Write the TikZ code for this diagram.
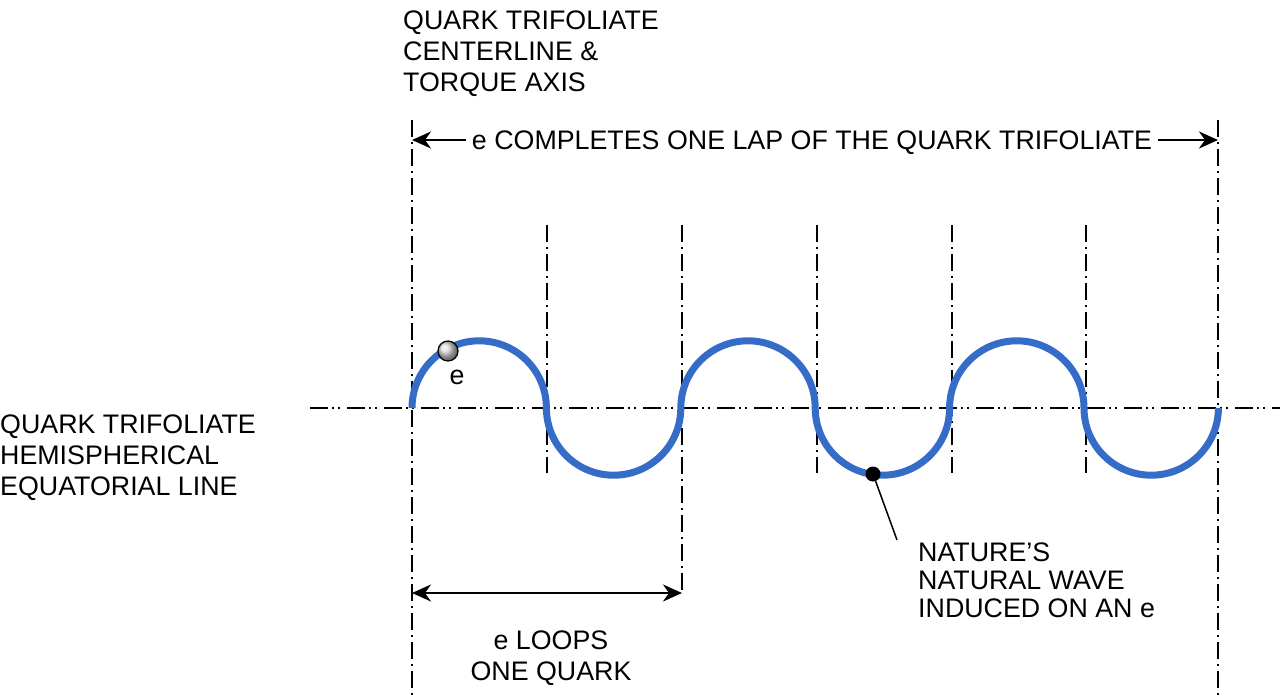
\documentclass[tikz,border=0pt]{standalone}
\usepackage{fontspec}
\setmainfont{Liberation Sans}
\usetikzlibrary{arrows.meta,positioning}
\definecolor{waveblue}{RGB}{52,108,200}

\begin{document}
\begin{tikzpicture}[
    x=1pt, y=-1pt,
    lbl/.style={inner sep=0pt, font=\fontsize{26.8}{31}\selectfont},
    arr/.style={-{Stealth[length=19pt, width=17pt, inset=6pt]}, line width=1.8pt, draw=black},
    dimarr/.style={{Stealth[length=19pt, width=17pt, inset=6pt]}-{Stealth[length=19pt, width=17pt, inset=6pt]}, line width=1.8pt, draw=black},
    centerline/.style={line width=2pt, dash pattern=on 17pt off 5pt on 2pt off 5pt},
    equator/.style={line width=2pt, dash pattern=on 18pt off 4pt on 2pt off 4pt on 2pt off 7pt},
    wave/.style={draw=waveblue, line width=7pt}
]
    \useasboundingbox[fill=white] (0,0) rectangle (1288,699);

    % centerlines of the loops
    \coordinate (c0top) at (412,120);   \coordinate (c0bot) at (412,699);
    \coordinate (c6top) at (1218,120);  \coordinate (c6bot) at (1218,699);
    \draw[centerline] (c0top) -- (c0bot);
    \draw[centerline] (c6top) -- (c6bot);
    \foreach \xx/\yy in {547/473, 682/593, 817/473, 952/473, 1086/473}
        \draw[centerline] (\xx,225) -- (\xx,\yy);

    % equatorial line
    \coordinate (eqwest) at (310,408);
    \coordinate (eqeast) at (1280,408);
    \draw[equator] (eqwest) -- (eqeast);

    % natural wave
    \draw[wave] (412,408)
        arc[start angle=180, end angle=360, radius=67.2]
        arc[start angle=180, end angle=0, radius=67.2]
        arc[start angle=180, end angle=360, radius=67.2]
        arc[start angle=180, end angle=0, radius=67.2]
        arc[start angle=180, end angle=360, radius=67.2]
        arc[start angle=180, end angle=0, radius=67.2];

    % electron and wave point
    \node[circle, draw=black, line width=1.2pt, shading=ball, ball color=white!70!gray,
          minimum size=20pt, inner sep=0pt] (ball) at (448,351) {};
    \node[lbl, anchor=base] (elbl) at (457,384) {e};
    \node[circle, fill=black, minimum size=15pt, inner sep=0pt] (wavept) at (873,474) {};

    % labels
    \node[lbl, align=left, anchor=north west] (axis) at (403,11)
        {QUARK TRIFOLIATE\\CENTERLINE \&\\TORQUE AXIS};
    \node[lbl, align=left, anchor=north west] (equat) at (0,415)
        {QUARK TRIFOLIATE\\HEMISPHERICAL\\EQUATORIAL LINE};
    \node[lbl, anchor=base, inner xsep=6pt] (lap) at (812,149)
        {e COMPLETES ONE LAP OF THE QUARK TRIFOLIATE};
    \node[lbl, align=center, anchor=north] (loops) at (551,631)
        {e LOOPS\\ONE QUARK};
    \node[lbl, align=left, anchor=north west, font=\fontsize{26.8}{28}\selectfont] (nature) at (918,543)
        {NATURE’S\\NATURAL WAVE\\INDUCED ON AN e};

    % arrows
    \draw[arr] ([yshift=9pt]lap.base west) -- ([yshift=9pt]lap.base west -| c0top);
    \draw[arr] ([yshift=9pt]lap.base east) -- ([yshift=9pt]lap.base east -| c6top);
    \coordinate (loopwest) at (412,593);
    \coordinate (loopeast) at (682,593);
    \draw[dimarr] (loopwest) -- (loopeast);
    \coordinate (leader) at (897,540);
    \draw[line width=1.5pt] (wavept) -- (leader);
\end{tikzpicture}
\end{document}
